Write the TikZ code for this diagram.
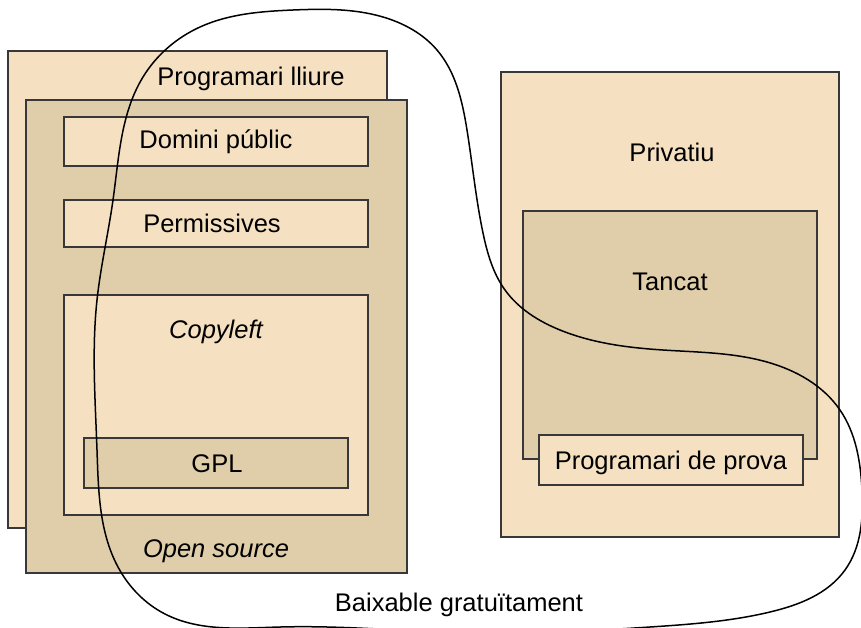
\documentclass[tikz,border=0pt]{standalone}
\usepackage{fontspec}
\setmainfont{Liberation Sans}
\usetikzlibrary{hobby}
\definecolor{lightfill}{HTML}{F5E1C1}
\definecolor{darkfill}{HTML}{E0CDAA}
\definecolor{edgegray}{HTML}{383838}
\begin{document}
\begin{tikzpicture}[x=1pt,y=-1pt,
  basebox/.style={draw=edgegray, line width=1.5pt, inner sep=0pt, outer sep=0pt},
  lightbox/.style={basebox, fill=lightfill},
  darkbox/.style={basebox, fill=darkfill},
  lbl/.style={inner sep=0pt, font=\fontsize{25.5}{29}\selectfont, anchor=base},
  ilbl/.style={lbl, font=\fontsize{25.5}{29}\selectfont\itshape},
  blob/.style={draw=black, line width=1.5pt}]
\useasboundingbox (0,0) rectangle (861,627);
% left group
\node[lightbox, minimum width=379pt, minimum height=477pt] (pl) at (197.5,289.5) {};
\node[darkbox, minimum width=381pt, minimum height=473pt] (os) at (216.5,336.5) {};
\node[lightbox, minimum width=304pt, minimum height=49pt] (dp) at (216,141.5) {};
\node[lightbox, minimum width=304pt, minimum height=47pt] (pe) at (216,223.5) {};
\node[lightbox, minimum width=304pt, minimum height=220pt] (cl) at (216,405) {};
\node[darkbox, minimum width=264pt, minimum height=50pt] (gpl) at (216,463) {};
% right group
\node[lightbox, minimum width=338pt, minimum height=465pt] (pr) at (670,304.5) {};
\node[darkbox, minimum width=294pt, minimum height=248pt] (ta) at (670,335) {};
\node[lightbox, minimum width=264pt, minimum height=50pt] (pp) at (671,460) {};
% labels
\node[lbl] (tpl) at (251,85.5) {Programari lliure};
\node[lbl] (tdp) at (216,148.5) {Domini públic};
\node[lbl] (tpe) at (212,232.5) {Permissives};
\node[ilbl] (tcl) at (216,338) {Copyleft};
\node[lbl] (tgpl) at (217,472.5) {GPL};
\node[ilbl] (tos) at (216,557) {Open source};
\node[lbl] (tpr) at (672,161) {Privatiu};
\node[lbl] (tta) at (670,290) {Tancat};
\node[lbl] (tpp) at (671,469) {Programari de prova};
\node[lbl] (tbg) at (459,611.5) {Baixable gratuïtament};
% curve
\draw[blob, use Hobby shortcut, closed=true]
  (293,10) .. (383,17) .. (437,50) .. (467,130) .. (483,233) .. (505,290)
  .. (560,330) .. (663,350) .. (767,362) .. (840,410) .. (862,490)
  .. (845,570) .. (770,612) .. (650,627) .. (470,633) .. (280,627)
  .. (165,614) .. (118,567) .. (97,450) .. (97,300) .. (113,200)
  .. (143,77) .. (200,27);
\end{tikzpicture}
\end{document}
